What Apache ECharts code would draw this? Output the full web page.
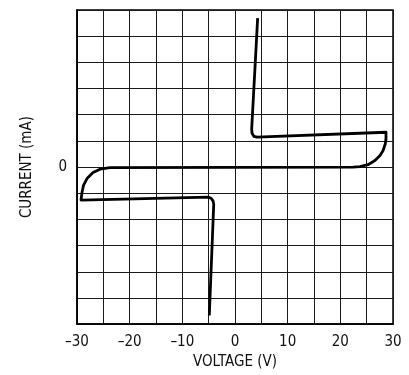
<!DOCTYPE html>
<html>
<head>
<meta charset="utf-8">
<script src="https://cdn.jsdelivr.net/npm/echarts@6/dist/echarts.min.js"></script>
<style>
  html, body { margin: 0; padding: 0; background: #fff; }
  #chart { width: 409px; height: 375px; }
</style>
</head>
<body>
<div id="chart"></div>
<script>
// I–V trace: voltage (V) and current (grid divisions, 0 at centre)
const voltage = [4.3, 3.17, 3.23, 3.61, 4.18,
                 28.67, 28.67, 28.54, 28.1, 27.53, 26.58, 25.25, 23.73, 22.4,
                 -23.73, -25.63, -26.96, -28.1, -28.77, -29.05, -29.24,
                 -5.07, -4.56, -4.18, -4.04, -4.88];
const current = [5.69, 1.46, 1.29, 1.17, 1.14,
                 1.33, 1.08, 0.89, 0.62, 0.44, 0.25, 0.09, 0.02, 0.0,
                 -0.02, -0.08, -0.21, -0.44, -0.7, -0.97, -1.26,
                 -1.15, -1.19, -1.29, -1.42, -5.67];

const xTicks = [-30, -20, -10, 0, 10, 20, 30];
const yTicks = [0];

const FONT = '"Liberation Sans Narrow", "DejaVu Sans Condensed", "Liberation Sans", Arial, sans-serif';
const trace = voltage.map((v, i) => [v, current[i]]);

const chart = echarts.init(document.getElementById('chart'), null, { renderer: 'canvas' });
chart.setOption({
  animation: false,
  backgroundColor: '#fff',
  grid: {
    left: 77, right: 16, top: 10, bottom: 48,
    show: true, borderColor: '#000', borderWidth: 1.5, backgroundColor: 'transparent'
  },
  xAxis: {
    type: 'value', min: -30, max: 30, interval: 5,
    name: 'VOLTAGE (V)', nameLocation: 'middle', nameGap: 30,
    nameTextStyle: { color: '#111', fontFamily: FONT, fontSize: 15 },
    axisLine: { show: true, onZero: false, lineStyle: { color: '#000', width: 1.5 } },
    axisTick: { show: false },
    axisLabel: {
      color: '#111', fontFamily: FONT, fontSize: 15, margin: 11,
      formatter: v => xTicks.includes(v) ? String(v).replace('-', '\u2013') : ''
    },
    splitLine: { show: true, lineStyle: { color: '#1a1a1a', width: 1 } }
  },
  yAxis: {
    type: 'value', min: -6, max: 6, interval: 1,
    name: 'CURRENT (mA)', nameLocation: 'middle', nameGap: 42, nameRotate: 90,
    nameTextStyle: { color: '#111', fontFamily: FONT, fontSize: 15 },
    axisLine: { show: true, onZero: false, lineStyle: { color: '#000', width: 1.5 } },
    axisTick: { show: false },
    axisLabel: {
      color: '#111', fontFamily: FONT, fontSize: 15, margin: 10,
      formatter: v => yTicks.includes(v) ? String(v) : ''
    },
    splitLine: { show: true, lineStyle: { color: '#1a1a1a', width: 1 } }
  },
  series: [{
    type: 'line',
    data: trace,
    showSymbol: false,
    smooth: false,
    lineStyle: { color: '#000', width: 2.8, join: 'round', cap: 'butt' }
  }]
});
</script>
</body>
</html>
